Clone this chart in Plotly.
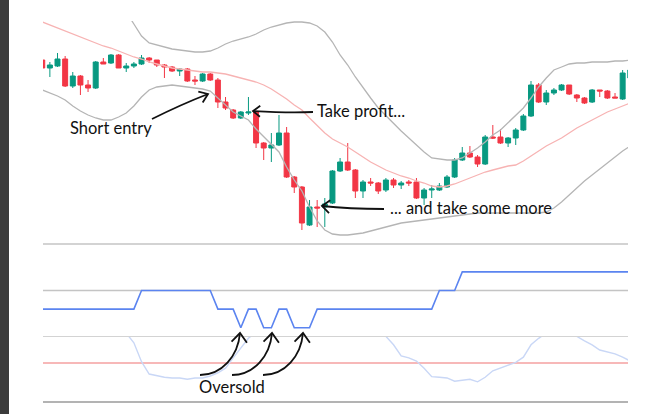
import math
import plotly.graph_objects as go

# ---------------- data ----------------
bar_index = list(range(78))

open_ = [190, 182, 184, 191, 164, 174, 165, 162, 188, 187, 195, 182, 184, 186, 192, 190,
         185, 183, 179, 181, 170, 169, 176, 170, 148, 140, 132, 137, 138, 107, 102, 105,
         117, 73, 63, 25, 43, 43, 47, 79, 88, 80, 59, 68, 67, 60, 70, 65,
         68, 68, 52, 60, 60, 63, 73, 90, 97, 93, 86, 113, 113, 107, 112, 120,
         134, 165, 148, 157, 160, 165, 155, 152, 148, 160, 159, 153, 151, 172]
high_ = [192, 188, 197, 194, 178, 175, 170, 189, 192, 196, 196, 187, 188, 195, 193, 190,
         186, 184, 182, 182, 174, 177, 177, 172, 153, 141, 139, 153, 139, 108, 117, 135,
         123, 74, 64, 50, 50, 52, 80, 92, 107, 81, 70, 72, 68, 72, 72, 69,
         70, 72, 62, 65, 67, 75, 92, 103, 104, 95, 115, 125, 121, 113, 122, 136,
         169, 167, 160, 162, 166, 165, 156, 153, 161, 160, 160, 157, 180, 183]
low_ = [180, 173, 183, 163, 162, 155, 158, 161, 186, 186, 182, 178, 182, 185, 187, 183,
        172, 178, 174, 168, 165, 168, 169, 142, 140, 131, 131, 135, 102, 90, 88, 104,
        72, 57, 20, 24, 23, 23, 46, 78, 79, 52, 52, 64, 56, 58, 62, 61,
        64, 51, 45, 52, 59, 62, 72, 89, 92, 83, 85, 111, 106, 103, 105, 119,
        133, 147, 145, 155, 159, 155, 148, 146, 147, 153, 151, 152, 150, 168]
close_ = [182, 185, 191, 164, 174, 165, 162, 188, 186, 195, 182, 184, 186, 192, 190, 185,
          183, 179, 181, 169, 169, 176, 170, 148, 142, 132, 138, 138, 107, 102, 105, 117,
          73, 63, 27, 43, 42, 46, 79, 88, 80, 59, 68, 67, 59, 70, 65, 67,
          67, 52, 60, 61, 64, 73, 90, 97, 93, 86, 113, 112, 107, 112, 120, 134,
          165, 148, 157, 160, 165, 156, 152, 147, 160, 159, 152, 152, 177, 180]

bb_upper = [280, 282, 283, 280, 278, 275, 272, 268, 262, 255, 247, 238, 226, 214, 207, 205,
            203, 201, 200, 199, 198, 198, 199, 202, 206, 209, 211, 213, 216, 220, 223, 225,
            227, 228, 228, 227, 224, 218, 208, 195, 185, 173, 162, 152, 142, 134, 126, 119,
            112, 105, 98, 92, 91, 90, 90, 92, 97, 102, 108, 115, 120, 127, 134, 142,
            152, 163, 172, 180, 183, 186, 187, 187, 188, 188, 188, 189, 189, 190]
bb_middle = [228, 225, 222, 219, 216, 213, 210, 207, 204, 202, 199, 196, 193, 191, 188, 186,
             184, 182, 181, 180, 179, 178, 178, 177, 176, 174, 172, 170, 168, 165, 161, 156,
             151, 145, 140, 132, 124, 117, 111, 107, 103, 98, 93, 88, 84, 80, 77, 74,
             72, 69, 67, 64, 63, 64, 66, 69, 72, 75, 78, 80, 82, 84, 85, 89,
             94, 99, 104, 108, 112, 117, 122, 126, 130, 134, 138, 141, 144, 147]
bb_lower = [160, 157, 154, 150, 144, 139, 135, 132, 130, 130, 133, 137, 144, 153, 160, 163,
            164, 165, 164, 163, 162, 161, 159, 152, 144, 138, 134, 130, 121, 113, 105, 98,
            83, 70, 59, 43, 29, 20, 16, 15, 15, 16, 17, 19, 21, 23, 25, 27,
            28, 29, 30, 31, 32, 33, 34, 35, 36, 37, 37, 37, 37, 37, 37, 37,
            37, 37, 38, 42, 48, 55, 62, 69, 75, 81, 87, 93, 99, 104]

step_level = [30] * 13 + [50] * 10 + [30] * 3 + [10] + [30] * 2 + [10] * 2 + [30] * 2 + \
             [10] * 3 + [30] * 16 + [50] * 3 + [70] * 23

osc_values = [118, 120, 122, 119, 115, 112, 114, 117, 116, 118, 113, 106, 91, 62, 43, 40,
              38, 37, 37, 35, 37, 37, 40, 45, 52, 68, 83, 98, 108, 112, 110, 114,
              116, 113, 118, 121, 117, 115, 119, 122, 120, 117, 114, 110, 106, 101, 88, 71,
              68, 63, 52, 39, 38, 37, 32, 34, 35, 31, 38, 48, 52, 57, 61, 69,
              88, 98, 106, 110, 108, 104, 101, 94, 88, 80, 77, 74, 69, 63]

oversold_level = 60
mid_grid = [0, 50, 100]

GREEN = "#089981"
RED = "#f23645"

# ---------------- figure ----------------
fig = go.Figure()

fig.add_trace(go.Scatter(x=bar_index, y=bb_upper, mode="lines",
                         line=dict(color="#b5b5b5", width=1.3), hoverinfo="skip"))
fig.add_trace(go.Scatter(x=bar_index, y=bb_lower, mode="lines",
                         line=dict(color="#b5b5b5", width=1.3), hoverinfo="skip"))
fig.add_trace(go.Scatter(x=bar_index, y=bb_middle, mode="lines",
                         line=dict(color="#f7b3b3", width=1.3), hoverinfo="skip"))

fig.add_trace(go.Candlestick(
    x=bar_index, open=open_, high=high_, low=low_, close=close_,
    increasing=dict(line=dict(color=GREEN, width=1), fillcolor=GREEN),
    decreasing=dict(line=dict(color=RED, width=1), fillcolor=RED),
    whiskerwidth=0, yaxis="y"))

fig.add_trace(go.Scatter(x=bar_index, y=step_level, mode="lines", yaxis="y2",
                         line=dict(color="#5b84f0", width=1.6), hoverinfo="skip"))
fig.add_trace(go.Scatter(x=bar_index, y=osc_values, mode="lines", yaxis="y3",
                         line=dict(color="#c9d7f6", width=1.4), hoverinfo="skip"))

# ---------------- pixel helpers for decorations ----------------
PL, PR, PT, PB = 43, 628, 21, 402


def pp(x, y):
    return (x - PL) / (PR - PL), (PB - y) / (PB - PT)


def fmt(pt):
    a, b = pp(*pt)
    return "%.5f,%.5f" % (a, b)


def curve(p0, c1, c2, p3):
    return "M %s C %s %s %s" % (fmt(p0), fmt(c1), fmt(c2), fmt(p3))


def head(tip, frm, length=10, ang=36):
    a = math.atan2(frm[1] - tip[1], frm[0] - tip[0])
    p1 = (tip[0] + length * math.cos(a + math.radians(ang)),
          tip[1] + length * math.sin(a + math.radians(ang)))
    p2 = (tip[0] + length * math.cos(a - math.radians(ang)),
          tip[1] + length * math.sin(a - math.radians(ang)))
    return "M %s L %s L %s" % (fmt(p1), fmt(tip), fmt(p2))


shapes = []
# panel separators / levels
y244 = pp(0, 244)[1]
shapes.append(dict(type="line", xref="paper", yref="paper", x0=0, x1=1, y0=y244, y1=y244,
                   line=dict(color="#c4c4c4", width=1.6), layer="below"))
for g in mid_grid[:2]:
    shapes.append(dict(type="line", xref="paper", yref="y2", x0=0, x1=1, y0=g, y1=g,
                       line=dict(color="#c4c4c4", width=1.6), layer="below"))
shapes.append(dict(type="line", xref="paper", yref="y3", x0=0, x1=1,
                   y0=oversold_level, y1=oversold_level,
                   line=dict(color="#f5a0a0", width=1.4), layer="below"))
shapes.append(dict(type="line", xref="paper", yref="paper", x0=0, x1=1, y0=0, y1=0,
                   line=dict(color="#9a9a9a", width=1.6), layer="below"))

# left dark frame strip
x0s, y0s = pp(0, 414)
x1s, y1s = pp(9, 0)
shapes.append(dict(type="rect", xref="paper", yref="paper", x0=x0s, x1=x1s, y0=y0s, y1=y1s,
                   fillcolor="#3b3b3b", line=dict(width=0), layer="above"))

arrow_line = dict(color="#111111", width=1.8)
arrows = []
# Short entry
arrows.append(curve((152, 119), (170, 110), (190, 101), (208, 94)))
arrows.append(head((208, 94), (193, 100)))
# Take profit
arrows.append(curve((313, 112), (290, 113), (270, 112), (253, 111)))
arrows.append(head((253, 111), (270, 111.5), length=9, ang=38))
# and take some more
arrows.append(curve((384, 209), (362, 209), (340, 208), (322, 206)))
arrows.append(head((322, 206), (338, 207.5), length=10, ang=40))
# Oversold (three)
for dx in (0, 32, 63):
    arrows.append(curve((200 + dx, 375), (222 + dx, 375), (238 + dx, 356), (240 + dx, 333)))
    arrows.append(head((240 + dx, 333), (239 + dx, 345), length=12, ang=40))
for pth in arrows:
    shapes.append(dict(type="path", xref="paper", yref="paper", path=pth,
                       line=arrow_line, layer="above"))

FONT = dict(family="Lato, 'Open Sans', sans-serif", size=16.5, color="#111111")
annotations = []
for txt, px, py, anc in [("Short entry", 111, 128, "center"),
                         ("Take profit...", 315, 111, "left"),
                         ("... and take some more", 388, 208, "left"),
                         ("Oversold", 232, 387, "center")]:
    ax, ay = pp(px, py)
    annotations.append(dict(text=txt, x=ax, y=ay, xref="paper", yref="paper",
                            xanchor=anc, yanchor="middle", showarrow=False, font=FONT))

d2_top = pp(0, 244)[1]
d2_bot = pp(0, 337)[1]

fig.update_layout(
    width=667, height=414,
    margin=dict(l=PL, r=667 - PR, t=PT, b=414 - PB, pad=0),
    paper_bgcolor="white", plot_bgcolor="rgba(0,0,0,0)",
    showlegend=False,
    boxgap=0.35, boxgroupgap=0,
    xaxis=dict(range=[0.1, 76.7], visible=False, rangeslider=dict(visible=False),
               showgrid=False, zeroline=False, fixedrange=True),
    yaxis=dict(domain=[d2_top, 1], range=[6, 229], visible=False, showgrid=False,
               zeroline=False),
    yaxis2=dict(domain=[d2_bot, d2_top], range=[0, 100], visible=False, showgrid=False,
                zeroline=False),
    yaxis3=dict(domain=[0, d2_bot], range=[0, 100], visible=False, showgrid=False,
                zeroline=False),
    shapes=shapes,
    annotations=annotations,
)

fig.write_html("out.html", config={"displayModeBar": False},
               post_script="document.body.style.margin='0';document.body.style.overflow='hidden';")
